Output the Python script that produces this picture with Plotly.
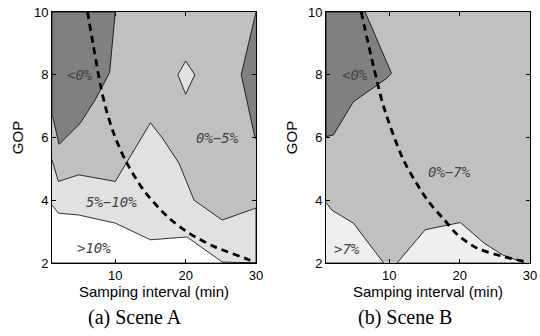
import plotly.graph_objects as go

# ---------------- data ----------------
X_RANGE = [1, 30]
Y_RANGE = [2, 10]
X_TICKS = [10, 20, 30]
Y_TICKS = [2, 4, 6, 8, 10]

# Scene A contour boundaries
a_neg_x = [10.0, 9.19, 7.14, 5.0, 2.0, 1.1, 1.0]
a_neg_y = [10.0, 8.07, 7.2, 6.45, 5.78, 6.67, 6.7]
a_negr_x = [30.0, 27.9, 29.8, 30.0]
a_negr_y = [10.0, 8.0, 6.05, 5.95]
a_510_x = [1.0, 1.9, 4.8, 10.0, 15.0, 16.7, 19.05, 21.2, 25.2, 30.0]
a_510_y = [5.29, 4.6, 4.81, 4.6, 6.47, 5.98, 5.18, 4.0, 3.37, 3.75]
a_10_x = [1.0, 1.9, 4.8, 10.0, 15.0, 20.2, 25.2, 30.0]
a_10_y = [3.85, 3.59, 3.53, 3.27, 2.74, 2.83, 2.03, 2.0]
a_dia_x = [20.0, 21.3, 20.0, 18.9]
a_dia_y = [8.44, 8.0, 7.38, 8.0]
a_curve_x = [6.05, 6.9, 7.86, 8.57, 9.76, 11.4, 14.0, 17.4, 20.5, 24.0, 28.8, 29.5]
a_curve_y = [10.0, 8.9, 7.7, 7.0, 6.14, 5.29, 4.33, 3.48, 2.95, 2.53, 2.12, 2.05]
a_labels = ["<0%", "0%\u22125%", "5%\u221210%", ">10%"]
a_label_x = [5.0, 24.5, 9.5, 6.9]
a_label_y = [8.0, 5.97, 3.96, 2.47]

# Scene B contour boundaries
b_neg_x = [6.57, 10.3, 9.67, 4.9, 2.05, 1.1, 1.0]
b_neg_y = [10.0, 8.05, 7.89, 7.14, 6.08, 6.03, 6.03]
b_7l_x = [1.0, 1.8, 4.9, 9.2]
b_7l_y = [3.93, 3.69, 3.27, 2.0]
b_7r_x = [11.1, 15.1, 20.1, 23.5, 26.1, 29.2]
b_7r_y = [2.0, 3.06, 3.29, 2.63, 2.26, 2.0]
b_curve_x = [6.0, 7.76, 9.2, 12.0, 15.4, 17.8, 19.7, 22.5, 26.3, 29.2]
b_curve_y = [10.0, 8.26, 6.98, 5.29, 4.01, 3.38, 2.9, 2.47, 2.2, 2.05]
b_labels = ["<0%", "0%\u22127%", ">7%"]
b_label_x = [5.14, 18.5, 3.95]
b_label_y = [8.0, 4.91, 2.44]

captions = ["(a) Scene A", "(b) Scene B"]
x_title = "Samping interval (min)"
y_title = "GOP"

# ---------------- styles ----------------
C_DARK = "#808080"
C_MID = "#c0c0c0"
C_LIGHT = "#e1e1e1"
C_LIGHT_B = "#efefef"
C_WHITE = "#ffffff"

fig = go.Figure()


def poly(xs, ys, color, xa, ya):
    fig.add_trace(go.Scatter(
        x=xs, y=ys, mode="lines", fill="toself", fillcolor=color,
        line=dict(color="black", width=0.8), xaxis=xa, yaxis=ya,
        hoverinfo="skip", showlegend=False))


def curve(xs, ys, xa, ya):
    fig.add_trace(go.Scatter(
        x=xs, y=ys, mode="lines",
        line=dict(color="black", width=2.8, dash="7px,5px", shape="spline", smoothing=0.8),
        xaxis=xa, yaxis=ya, hoverinfo="skip", showlegend=False))


x0, x1 = X_RANGE
y0, y1 = Y_RANGE

# Scene A
poly(a_510_x + [x1, x0], a_510_y + [y0, y0], C_LIGHT, "x", "y")
poly(a_10_x + [x1, x0], a_10_y + [y0, y0], C_WHITE, "x", "y")
poly([x0] + a_neg_x + [x0], [y1] + a_neg_y + [y1], C_DARK, "x", "y")
poly(a_negr_x, a_negr_y, C_DARK, "x", "y")
poly(a_dia_x + a_dia_x[:1], a_dia_y + a_dia_y[:1], C_LIGHT, "x", "y")
curve(a_curve_x, a_curve_y, "x", "y")

# Scene B
poly([x0] + b_neg_x + [x0], [y1] + b_neg_y + [y1], C_DARK, "x2", "y2")
poly(b_7l_x + [x0], b_7l_y + [y0], C_LIGHT_B, "x2", "y2")
poly(b_7r_x + b_7r_x[:1], b_7r_y + b_7r_y[:1], C_LIGHT_B, "x2", "y2")
curve(b_curve_x, b_curve_y, "x2", "y2")

label_font = dict(family="DejaVu Sans Mono", size=14, color="#444444", style="italic")
annotations = []
for t, lx, ly in zip(a_labels, a_label_x, a_label_y):
    annotations.append(dict(text=t, x=lx, y=ly, xref="x", yref="y", showarrow=False, font=label_font))
for t, lx, ly in zip(b_labels, b_label_x, b_label_y):
    annotations.append(dict(text=t, x=lx, y=ly, xref="x2", yref="y2", showarrow=False, font=label_font))
for t, cx in zip(captions, [0.25, 0.75]):
    annotations.append(dict(text=t, x=cx, y=19 / 336, xref="paper", yref="paper", showarrow=False,
                            xanchor="center", yanchor="middle",
                            font=dict(family="Liberation Serif", size=20, color="black")))

W, H = 540, 336
ydom = [73 / H, 324 / H]
tick_font = dict(family="Liberation Sans", size=13, color="black")
title_font = dict(family="Liberation Sans", size=15, color="black")


def xax(dom, anchor):
    return dict(domain=dom, anchor=anchor, range=X_RANGE, tickvals=X_TICKS,
                showgrid=False, zeroline=False, showline=True, linecolor="black", linewidth=1,
                mirror="ticks", ticks="inside", ticklen=4, tickcolor="black", tickwidth=1,
                tickfont=tick_font, title=dict(text=x_title, font=title_font, standoff=0),
                automargin=False)


def yax(anchor):
    return dict(domain=ydom, anchor=anchor, range=Y_RANGE, tickvals=Y_TICKS,
                showgrid=False, zeroline=False, showline=True, linecolor="black", linewidth=1,
                mirror="ticks", ticks="inside", ticklen=4, tickcolor="black", tickwidth=1,
                tickfont=tick_font, title=dict(text=y_title, font=title_font, standoff=6),
                automargin=False)


fig.update_layout(
    width=W, height=H,
    margin=dict(l=0, r=0, t=0, b=0),
    paper_bgcolor="white", plot_bgcolor=C_MID,
    xaxis=xax([52 / W, 256 / W], "y"),
    yaxis=yax("x"),
    xaxis2=xax([326 / W, 530 / W], "y2"),
    yaxis2=yax("x2"),
    annotations=annotations,
    showlegend=False,
)

fig.write_html("out.html",
               config={"displayModeBar": False, "staticPlot": True},
               post_script="document.body.style.margin='0px';document.body.style.overflow='hidden';")
